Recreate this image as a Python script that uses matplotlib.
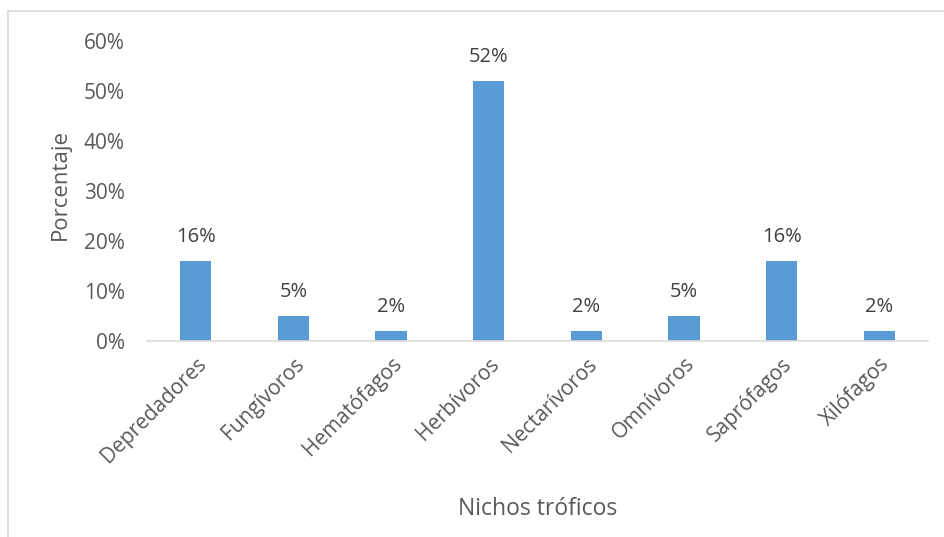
import matplotlib.pyplot as plt
from matplotlib.patches import Rectangle
from matplotlib.ticker import FuncFormatter

categorias = ['Depredadores', 'Fungívoros', 'Hematófagos', 'Herbívoros',
              'Nectarívoros', 'Omnívoros', 'Saprófagos', 'Xilófagos']
porcentajes = [16, 5, 2, 52, 2, 5, 16, 2]

plt.rcParams['font.family'] = ['Open Sans', 'DejaVu Sans']

fig = plt.figure(figsize=(9.45, 5.37), dpi=100)
ax = fig.add_axes([147 / 945, 1 - 341 / 537, (928 - 147) / 945, 300 / 537])

# marco del grafico (solo se ve arriba y a la izquierda)
fig.patches.append(Rectangle((8 / 945, -0.1), 1.2, 1 - 11 / 537 + 0.1,
                             transform=fig.transFigure, fill=False,
                             edgecolor='#d9d9d9', linewidth=1.2))

x = range(len(categorias))
bars = ax.bar(x, porcentajes, width=0.32, color='#5b9bd5')
for b, v in zip(bars, porcentajes):
    ax.text(b.get_x() + b.get_width() / 2, v + 2.8, f'{v}%', ha='center',
            va='bottom', fontsize=14.5, color='#404040')

ax.set_xlim(-0.5, len(categorias) - 0.5)
ax.set_ylim(0, 60)
ax.set_yticks(range(0, 61, 10))
ax.yaxis.set_major_formatter(FuncFormatter(lambda v, _: f'{v:.0f}%'))
ax.set_xticks(list(x))
ax.set_xticklabels(categorias, rotation=45, ha='right', rotation_mode='anchor')
ax.tick_params(axis='both', length=0, labelsize=15, labelcolor='#595959')
ax.tick_params(axis='y', pad=16)
ax.tick_params(axis='x', pad=9)

for s in ['top', 'right', 'left']:
    ax.spines[s].set_visible(False)
ax.spines['bottom'].set_color('#d9d9d9')
ax.spines['bottom'].set_linewidth(1.2)

ax.set_ylabel('Porcentaje', fontsize=16, color='#595959')
ax.yaxis.set_label_coords(-0.097, 0.522)
ax.set_xlabel('Nichos tróficos', fontsize=16.5, color='#595959')
ax.xaxis.set_label_coords(0.5, -0.52)

fig.savefig('out.png', dpi=100)
